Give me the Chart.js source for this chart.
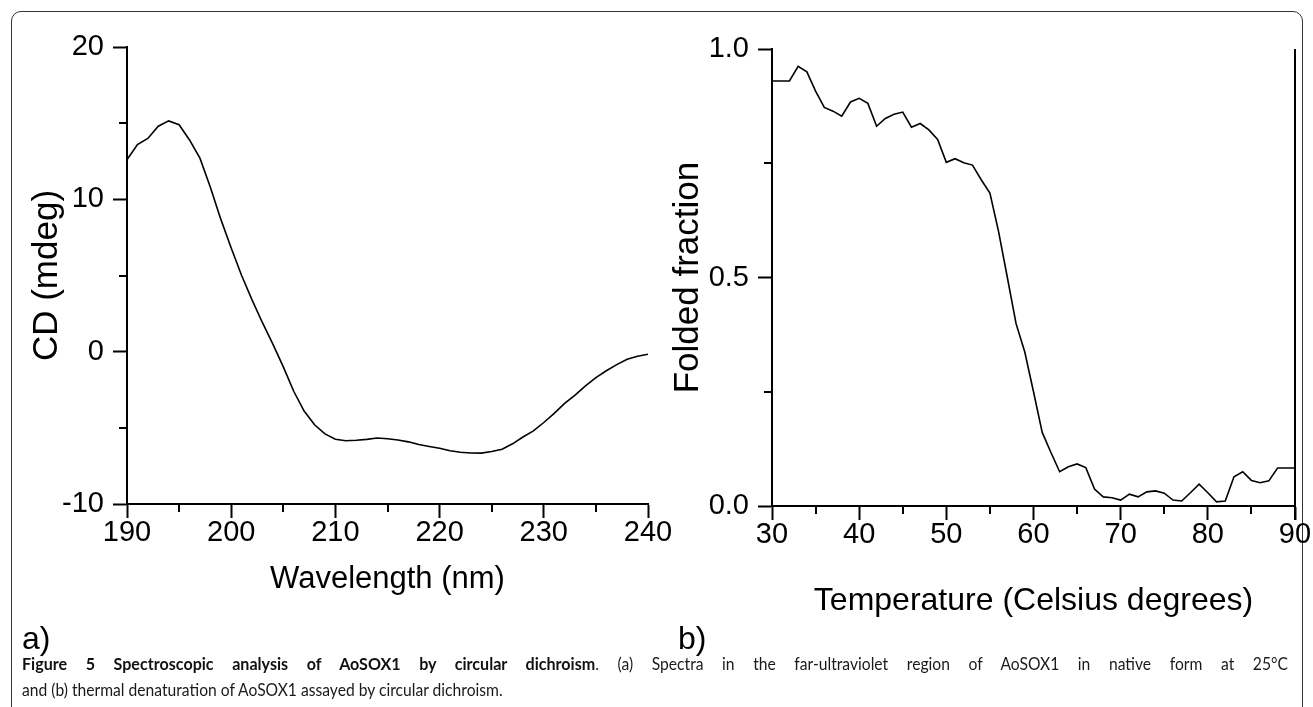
<!DOCTYPE html>
<html>
<head>
<meta charset="utf-8">
<script src="https://cdn.jsdelivr.net/npm/chart.js@4.4.1/dist/chart.umd.min.js"></script>
<style>
  html, body { margin: 0; padding: 0; background: #fff; }
  body { width: 1313px; height: 707px; position: relative; overflow: hidden; }
  .frame {
    position: absolute; left: 11px; top: 11px; width: 1290px; height: 730px;
    border: 1.5px solid #333; border-radius: 10px;
  }
  canvas { position: absolute; top: 0; }
  #chartA { left: 0; }
  #chartB { left: 640px; }
  .panel {
    position: absolute; font-family: "Liberation Sans", Arial, sans-serif;
    font-size: 32px; color: #000; line-height: 1;
  }
  /* caption font in the figure is condensed: squeeze Lato horizontally */
  .caption {
    position: absolute; left: 22px; width: 1376px;
    font-family: Lato, "Open Sans", sans-serif; font-size: 17px; line-height: 26px;
    color: #1a1a1a; white-space: nowrap;
    transform: scaleX(0.92); transform-origin: 0 0;
  }
  .caption.first { top: 651px; text-align: justify; text-align-last: justify; }
  .caption.second { top: 677px; text-align: left; }
  .caption b { font-weight: 700; color: #111; font-size: 17.5px; }
</style>
</head>
<body>
<div class="frame"></div>
<canvas id="chartA" width="700" height="640"></canvas>
<canvas id="chartB" width="673" height="640"></canvas>
<div class="panel" style="left:22px; top:622px;">a)</div>
<div class="panel" style="left:678px; top:622px;">b)</div>
<div class="caption first"><b>Figure 5 Spectroscopic analysis of AoSOX1 by circular dichroism</b>. (a) Spectra in the far-ultraviolet region of AoSOX1 in native form at 25°C</div>
<div class="caption second">and (b) thermal denaturation of AoSOX1 assayed by circular dichroism.</div>

<script>
// Panel a: far-UV CD spectrum
const wavelength = [190, 191, 192, 193, 194, 195, 196, 197, 198, 199,
                    200, 201, 202, 203, 204, 205, 206, 207, 208, 209,
                    210, 211, 212, 213, 214, 215, 216, 217, 218, 219,
                    220, 221, 222, 223, 224, 225, 226, 227, 228, 229,
                    230, 231, 232, 233, 234, 235, 236, 237, 238, 239, 240];
const cdSignal = [12.6, 13.6, 14.0, 14.8, 15.15, 14.9, 13.9, 12.7, 10.8, 8.7,
                  6.8, 5.0, 3.4, 1.9, 0.5, -1.0, -2.6, -3.9, -4.8, -5.4,
                  -5.75, -5.85, -5.82, -5.76, -5.67, -5.72, -5.8, -5.92, -6.1, -6.22,
                  -6.34, -6.5, -6.6, -6.65, -6.66, -6.55, -6.4, -6.05, -5.6, -5.2,
                  -4.65, -4.05, -3.4, -2.85, -2.25, -1.7, -1.25, -0.85, -0.5, -0.3, -0.17];

// Panel b: thermal denaturation
const temperature = [30, 31, 32, 33, 34, 35, 36, 37, 38, 39,
                     40, 41, 42, 43, 44, 45, 46, 47, 48, 49,
                     50, 51, 52, 53, 54, 55, 56, 57, 58, 59,
                     60, 61, 62, 63, 64, 65, 66, 67, 68, 69,
                     70, 71, 72, 73, 74, 75, 76, 77, 78, 79,
                     80, 81, 82, 83, 84, 85, 86, 87, 88, 89, 90];
const foldedFraction = [0.93, 0.93, 0.93, 0.962, 0.95, 0.908, 0.872, 0.864, 0.853, 0.884,
                        0.892, 0.881, 0.831, 0.848, 0.857, 0.862, 0.829, 0.837, 0.823, 0.802,
                        0.752, 0.76, 0.751, 0.746, 0.714, 0.685, 0.6, 0.5, 0.399, 0.337,
                        0.25, 0.161, 0.117, 0.075, 0.086, 0.092, 0.084, 0.037, 0.02, 0.018,
                        0.013, 0.026, 0.02, 0.031, 0.033, 0.028, 0.013, 0.011, 0.029, 0.048,
                        0.029, 0.009, 0.011, 0.064, 0.075, 0.056, 0.051, 0.055, 0.083, 0.083, 0.083];

// Minor (unlabelled) tick positions
const minorWavelength = [195, 205, 215, 225, 235];
const minorCD = [-5, 5, 15];
const minorTemperature = [35, 45, 55, 65, 75, 85];
const minorFolded = [0.25, 0.75];

const axisFont = "'Liberation Sans', Arial, sans-serif";

// Draw short minor ticks (and an optional right frame line) using the chart scales
const minorTicksPlugin = {
  id: 'minorTicks',
  afterDraw(chart, args, opts) {
    const ctx = chart.ctx;
    const xs = chart.scales.x;
    const ys = chart.scales.y;
    const area = chart.chartArea;
    ctx.save();
    ctx.strokeStyle = '#000';
    ctx.lineWidth = 2;
    ctx.beginPath();
    opts.x.forEach(v => {
      const px = Math.round(xs.getPixelForValue(v));
      ctx.moveTo(px, area.bottom);
      ctx.lineTo(px, area.bottom + 8);
    });
    opts.y.forEach(v => {
      const py = Math.round(ys.getPixelForValue(v));
      ctx.moveTo(area.left - 8, py);
      ctx.lineTo(area.left, py);
    });
    if (opts.rightLine) {
      ctx.moveTo(area.right, area.top);
      ctx.lineTo(area.right, area.bottom + 14);
    }
    ctx.stroke();
    ctx.restore();
  }
};

function makePoints(xs, ys) {
  return xs.map((x, i) => ({ x: x, y: ys[i] }));
}

function buildChart(canvasId, cfg) {
  return new Chart(document.getElementById(canvasId), {
    type: 'line',
    data: {
      datasets: [{
        data: makePoints(cfg.xData, cfg.yData),
        borderColor: '#000',
        borderWidth: 1.6,
        pointRadius: 0,
        tension: 0,
        fill: false
      }]
    },
    options: {
      responsive: false,
      animation: false,
      layout: { padding: cfg.padding },
      plugins: {
        legend: { display: false },
        tooltip: { enabled: false },
        minorTicks: { x: cfg.minorX, y: cfg.minorY, rightLine: cfg.rightLine }
      },
      scales: {
        x: {
          type: 'linear',
          min: cfg.xMin,
          max: cfg.xMax,
          afterFit: scale => { scale.height = cfg.xHeight; },
          ticks: {
            stepSize: cfg.xStep,
            color: '#000',
            padding: 0,
            maxRotation: 0,
            font: { family: axisFont, size: 29, lineHeight: 1 }
          },
          grid: { drawOnChartArea: false, drawTicks: true, tickLength: 14, tickWidth: 2, tickColor: '#000', color: '#000' },
          border: { display: true, color: '#000', width: 2 },
          title: {
            display: true,
            text: cfg.xTitle,
            color: '#000',
            padding: { top: 0, bottom: 6 },
            font: { family: axisFont, size: cfg.xTitleSize }
          }
        },
        y: {
          type: 'linear',
          min: cfg.yMin,
          max: cfg.yMax,
          afterFit: scale => { scale.width = cfg.yWidth; },
          ticks: {
            stepSize: cfg.yStep,
            color: '#000',
            padding: 9,
            font: { family: axisFont, size: 29 },
            callback: cfg.yFormat
          },
          grid: { drawOnChartArea: false, drawTicks: true, tickLength: 14, tickWidth: 2, tickColor: '#000', color: '#000' },
          border: { display: true, color: '#000', width: 2 },
          title: {
            display: true,
            text: cfg.yTitle,
            color: '#000',
            padding: { top: cfg.yTitlePad, bottom: 0 },
            font: { family: axisFont, size: 35 }
          }
        }
      }
    },
    plugins: [minorTicksPlugin]
  });
}

buildChart('chartA', {
  xData: wavelength, yData: cdSignal,
  xMin: 190, xMax: 240, xStep: 10,
  yMin: -10, yMax: 20, yStep: 10,
  yFormat: v => String(v),
  minorX: minorWavelength, minorY: minorCD, rightLine: false,
  xTitle: 'Wavelength (nm)', yTitle: 'CD (mdeg)', xTitleSize: 31,
  padding: { left: 0, top: 47, right: 52, bottom: 36 },
  xHeight: 100, yWidth: 127, yTitlePad: 26
});

buildChart('chartB', {
  xData: temperature, yData: foldedFraction,
  xMin: 30, xMax: 90, xStep: 10,
  yMin: 0, yMax: 1, yStep: 0.5,
  yFormat: v => v.toFixed(1),
  minorX: minorTemperature, minorY: minorFolded, rightLine: true,
  xTitle: 'Temperature (Celsius degrees)', yTitle: 'Folded fraction', xTitleSize: 32,
  padding: { left: 0, top: 49, right: 18, bottom: 14 },
  xHeight: 120, yWidth: 132, yTitlePad: 27
});
</script>
</body>
</html>
